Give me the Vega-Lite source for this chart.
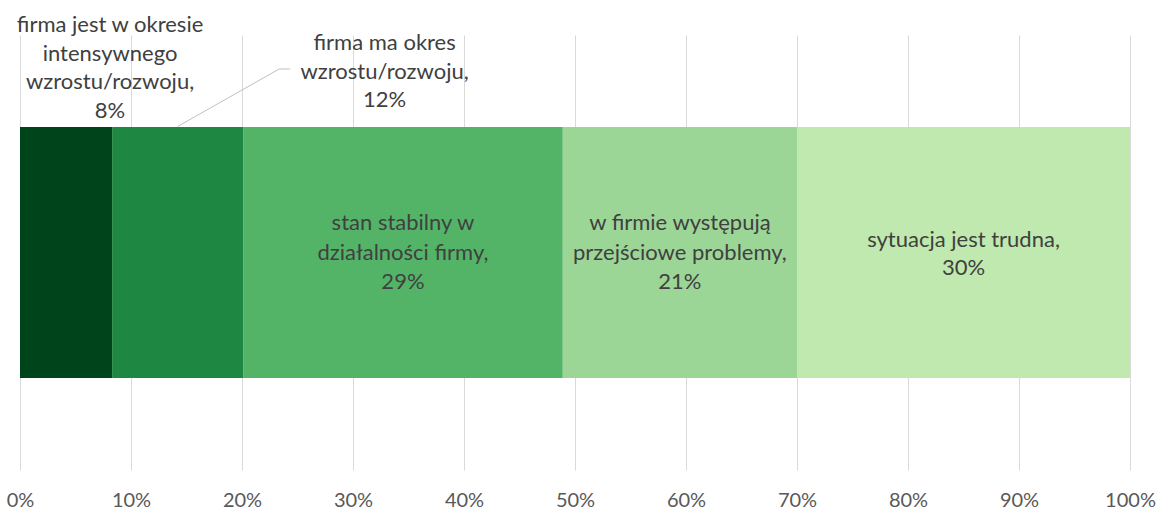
{
  "$schema": "https://vega.github.io/schema/vega-lite/v6.json",
  "width": 1110,
  "height": 435,
  "autosize": {"type": "none"},
  "padding": {"left": 20, "top": 35, "right": 39, "bottom": 41},
  "background": "white",
  "config": {"view": {"stroke": null}, "font": "Lato", "text": {"lineBreak": "\n"}},
  "data": {
    "values": [
      {"row": "firma", "rank": 1, "name": "firma jest w okresie intensywnego wzrostu/rozwoju", "value": 8.3, "label": "firma jest w okresie\nintensywnego\nwzrostu/rozwoju,\n8%"},
      {"row": "firma", "rank": 2, "name": "firma ma okres wzrostu/rozwoju", "value": 11.8, "label": "firma ma okres\nwzrostu/rozwoju,\n12%"},
      {"row": "firma", "rank": 3, "name": "stan stabilny w działalności firmy", "value": 28.8, "label": "stan stabilny w\ndziałalności firmy,\n29%"},
      {"row": "firma", "rank": 4, "name": "w firmie występują przejściowe problemy", "value": 21.1, "label": "w firmie występują\nprzejściowe problemy,\n21%"},
      {"row": "firma", "rank": 5, "name": "sytuacja jest trudna", "value": 30.0, "label": "sytuacja jest trudna,\n30%"}
    ]
  },
  "encoding": {
    "y": {"field": "row", "type": "nominal", "axis": null, "scale": {"paddingInner": 0.423, "paddingOuter": 0.2115}}
  },
  "layer": [
    {
      "mark": {"type": "bar"},
      "encoding": {
        "x": {
          "field": "value", "type": "quantitative", "stack": "zero",
          "scale": {"domain": [0, 100], "nice": false},
          "axis": {
            "values": [0, 10, 20, 30, 40, 50, 60, 70, 80, 90, 100],
            "labelExpr": "datum.value + '%'",
            "title": null, "domain": false, "ticks": false, "tickSize": 0,
            "grid": true, "gridColor": "#d9d9d9", "gridWidth": 1,
            "labelFont": "Lato", "labelFontSize": 20, "labelColor": "#595959",
            "labelBaseline": "middle", "labelPadding": 30, "labelFlush": false
          }
        },
        "color": {
          "field": "name", "type": "nominal", "legend": null,
          "scale": {
            "domain": ["firma jest w okresie intensywnego wzrostu/rozwoju", "firma ma okres wzrostu/rozwoju", "stan stabilny w działalności firmy", "w firmie występują przejściowe problemy", "sytuacja jest trudna"],
            "range": ["#00441b", "#1e8741", "#53b468", "#9cd697", "#bfe9ae"]
          }
        },
        "order": {"field": "rank"}
      }
    },
    {
      "mark": {"type": "text", "align": "center", "baseline": "middle", "fontSize": 22, "lineHeight": 29.5, "color": "#404040", "dy": -29.5},
      "encoding": {
        "x": {"field": "value", "type": "quantitative", "stack": "zero", "bandPosition": 0.5},
        "order": {"field": "rank"},
        "text": {"condition": {"test": "datum.rank == 3 || datum.rank == 4", "field": "label"}, "value": ""}
      }
    },
    {
      "mark": {"type": "text", "align": "center", "baseline": "middle", "fontSize": 22, "lineHeight": 28.5, "color": "#404040", "dy": -13},
      "encoding": {
        "x": {"field": "value", "type": "quantitative", "stack": "zero", "bandPosition": 0.5},
        "order": {"field": "rank"},
        "text": {"condition": {"test": "datum.rank == 5", "field": "label"}, "value": ""}
      }
    },
    {
      "mark": {"type": "text", "align": "center", "baseline": "middle", "fontSize": 22, "lineHeight": 28.5, "color": "#404040", "dx": 44, "dy": -227.5},
      "encoding": {
        "x": {"field": "value", "type": "quantitative", "stack": "zero", "bandPosition": 0.5},
        "order": {"field": "rank"},
        "text": {"condition": {"test": "datum.rank == 1", "field": "label"}, "value": ""}
      }
    },
    {
      "mark": {"type": "text", "align": "center", "baseline": "middle", "fontSize": 22, "lineHeight": 28.5, "color": "#404040", "dx": 207, "dy": -209.5},
      "encoding": {
        "x": {"field": "value", "type": "quantitative", "stack": "zero", "bandPosition": 0.5},
        "order": {"field": "rank"},
        "text": {"condition": {"test": "datum.rank == 2", "field": "label"}, "value": ""}
      }
    },
    {
      "transform": [{"filter": "datum.rank == 2"}],
      "mark": {"type": "rule", "color": "#bfbfbf", "strokeWidth": 1, "yOffset": -126, "y2Offset": -183.5},
      "encoding": {
        "x": {"datum": 14.2, "type": "quantitative"},
        "x2": {"datum": 23.35},
        "y2": {"field": "row"}
      }
    },
    {
      "transform": [{"filter": "datum.rank == 2"}],
      "mark": {"type": "rule", "color": "#bfbfbf", "strokeWidth": 1, "yOffset": -183.5},
      "encoding": {
        "x": {"datum": 23.35, "type": "quantitative"},
        "x2": {"datum": 24.35}
      }
    }
  ]
}
